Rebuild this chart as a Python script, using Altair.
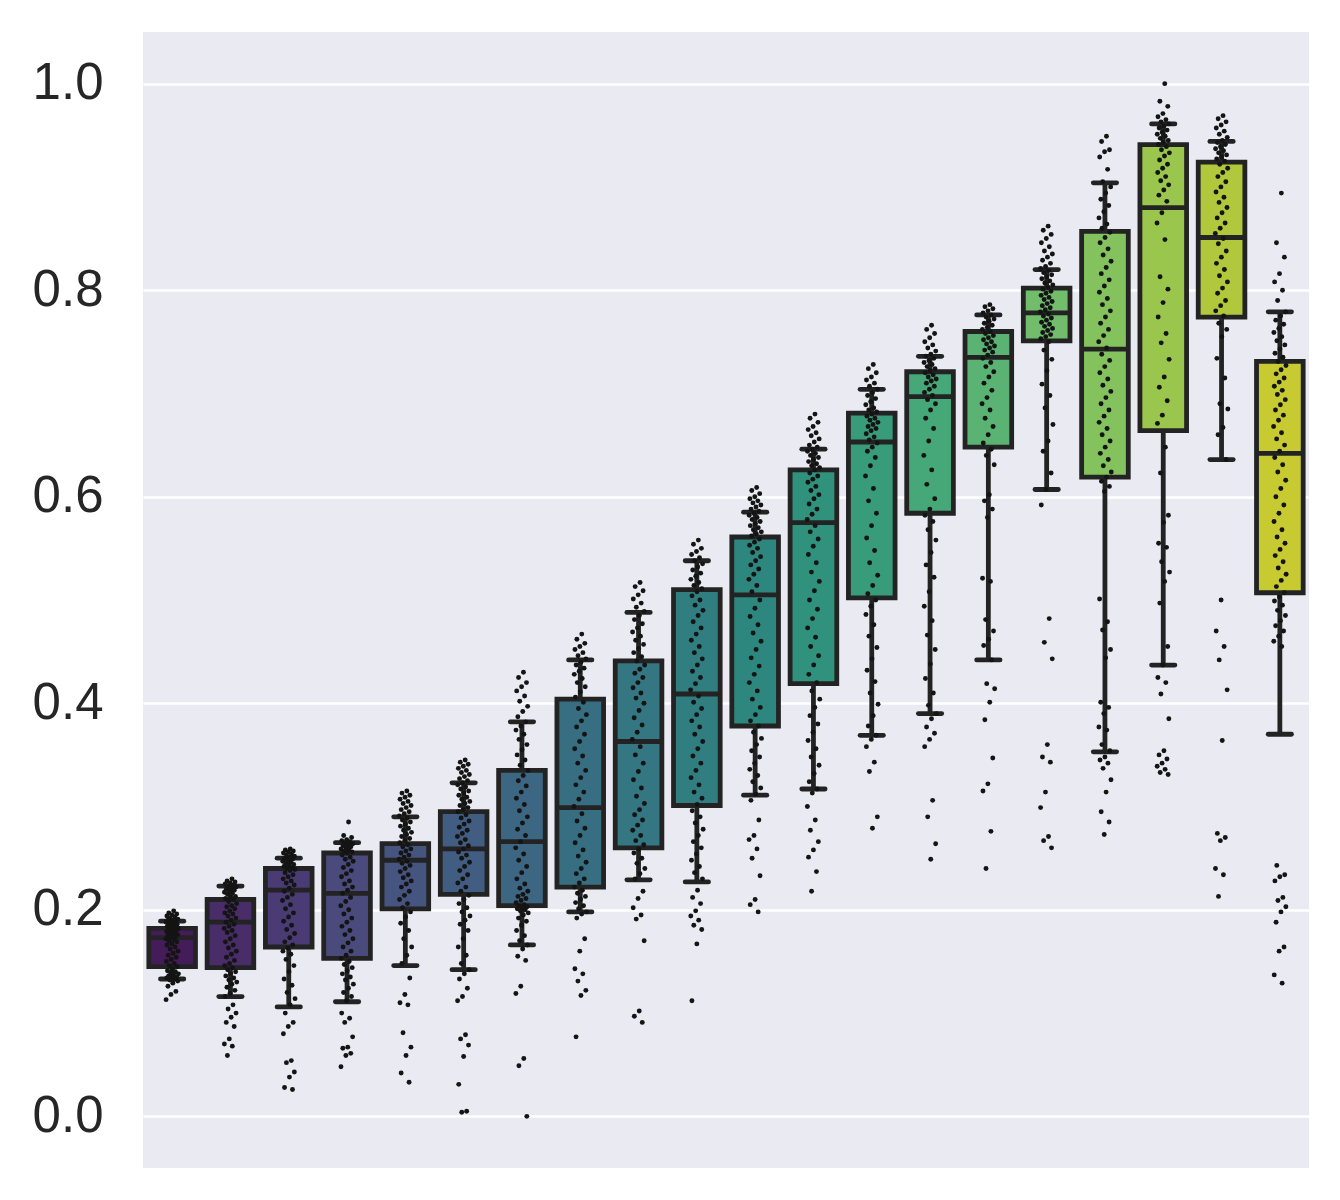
import colorsys

import altair as alt
import pandas as pd

# ---- box statistics for the 20 groups -------------------------------------
q1 = [0.145, 0.144, 0.164, 0.153, 0.201, 0.215, 0.204, 0.222, 0.260, 0.301,
      0.378, 0.419, 0.502, 0.584, 0.648, 0.751, 0.619, 0.664, 0.774, 0.507]
med = [0.173, 0.188, 0.219, 0.216, 0.248, 0.259, 0.266, 0.299, 0.363, 0.409,
       0.505, 0.575, 0.653, 0.697, 0.735, 0.778, 0.743, 0.880, 0.851, 0.642]
q3 = [0.182, 0.210, 0.240, 0.255, 0.264, 0.295, 0.335, 0.404, 0.441, 0.510,
      0.561, 0.626, 0.681, 0.721, 0.760, 0.802, 0.857, 0.941, 0.924, 0.731]
whisker_lo = [0.133, 0.116, 0.106, 0.111, 0.146, 0.142, 0.166, 0.198, 0.229, 0.227,
              0.311, 0.317, 0.369, 0.390, 0.442, 0.607, 0.353, 0.437, 0.636, 0.370]
whisker_hi = [0.189, 0.223, 0.250, 0.265, 0.290, 0.323, 0.382, 0.442, 0.488, 0.538,
              0.585, 0.646, 0.704, 0.736, 0.776, 0.820, 0.904, 0.961, 0.944, 0.779]

# ---- individual observations per group ------------------------------------
g1 = [0.199, 0.197, 0.196, 0.195, 0.194, 0.193, 0.192, 0.191, 0.190, 0.190, 0.189, 0.188,
      0.188, 0.187, 0.186, 0.186, 0.185, 0.184, 0.184, 0.183, 0.182, 0.182, 0.181, 0.180,
      0.179, 0.179, 0.178, 0.177, 0.176, 0.175, 0.175, 0.174, 0.173, 0.172, 0.171, 0.170,
      0.169, 0.167, 0.166, 0.164, 0.162, 0.160, 0.158, 0.156, 0.154, 0.152, 0.150, 0.148,
      0.146, 0.145, 0.143, 0.141, 0.140, 0.139, 0.138, 0.137, 0.136, 0.135, 0.134, 0.134,
      0.133, 0.132, 0.131, 0.129, 0.126, 0.121, 0.118, 0.113]
g2 = [0.230, 0.228, 0.227, 0.226, 0.225, 0.224, 0.223, 0.222, 0.221, 0.220, 0.219, 0.218,
      0.217, 0.216, 0.215, 0.213, 0.212, 0.211, 0.210, 0.208, 0.206, 0.204, 0.203, 0.201,
      0.199, 0.197, 0.196, 0.194, 0.192, 0.190, 0.188, 0.186, 0.184, 0.182, 0.180, 0.178,
      0.175, 0.172, 0.169, 0.166, 0.163, 0.160, 0.157, 0.154, 0.151, 0.148, 0.146, 0.144,
      0.142, 0.140, 0.138, 0.136, 0.134, 0.132, 0.130, 0.128, 0.125, 0.122, 0.119, 0.116,
      0.108, 0.104, 0.100, 0.096, 0.091, 0.087, 0.075, 0.070, 0.068, 0.059]
g3 = [0.259, 0.258, 0.257, 0.256, 0.255, 0.254, 0.253, 0.252, 0.251, 0.250, 0.249, 0.248,
      0.247, 0.246, 0.245, 0.244, 0.243, 0.242, 0.241, 0.240, 0.239, 0.238, 0.236, 0.234,
      0.232, 0.230, 0.228, 0.226, 0.224, 0.221, 0.218, 0.215, 0.212, 0.209, 0.205, 0.201,
      0.197, 0.193, 0.189, 0.185, 0.181, 0.177, 0.173, 0.169, 0.166, 0.163, 0.160, 0.157,
      0.152, 0.146, 0.140, 0.133, 0.127, 0.120, 0.114, 0.108, 0.100, 0.091, 0.087, 0.080,
      0.054, 0.052, 0.043, 0.038, 0.028, 0.026]
g4 = [0.285, 0.272, 0.270, 0.268, 0.267, 0.266, 0.265, 0.264, 0.263, 0.262, 0.261, 0.260,
      0.259, 0.258, 0.257, 0.256, 0.255, 0.253, 0.251, 0.249, 0.247, 0.244, 0.241, 0.238,
      0.235, 0.232, 0.228, 0.225, 0.222, 0.219, 0.216, 0.212, 0.208, 0.204, 0.200, 0.196,
      0.192, 0.188, 0.184, 0.180, 0.176, 0.172, 0.168, 0.164, 0.160, 0.156, 0.153, 0.150,
      0.147, 0.144, 0.141, 0.138, 0.135, 0.132, 0.128, 0.124, 0.120, 0.116, 0.112, 0.100,
      0.095, 0.091, 0.077, 0.067, 0.066, 0.061, 0.059, 0.048]
g5 = [0.315, 0.313, 0.311, 0.309, 0.307, 0.305, 0.303, 0.301, 0.299, 0.297, 0.295, 0.293,
      0.291, 0.289, 0.287, 0.285, 0.283, 0.281, 0.279, 0.277, 0.275, 0.273, 0.271, 0.269,
      0.267, 0.265, 0.263, 0.261, 0.259, 0.257, 0.255, 0.253, 0.251, 0.249, 0.247, 0.245,
      0.243, 0.240, 0.237, 0.234, 0.231, 0.228, 0.225, 0.222, 0.218, 0.214, 0.210, 0.206,
      0.202, 0.198, 0.193, 0.187, 0.180, 0.172, 0.164, 0.156, 0.148, 0.134, 0.118, 0.110,
      0.108, 0.081, 0.067, 0.059, 0.042, 0.033]
g6 = [0.345, 0.343, 0.341, 0.339, 0.337, 0.335, 0.333, 0.331, 0.329, 0.327, 0.325, 0.323,
      0.321, 0.319, 0.317, 0.315, 0.313, 0.311, 0.309, 0.307, 0.305, 0.303, 0.301, 0.299,
      0.297, 0.295, 0.292, 0.289, 0.286, 0.283, 0.280, 0.277, 0.274, 0.271, 0.268, 0.265,
      0.262, 0.259, 0.256, 0.253, 0.250, 0.246, 0.242, 0.238, 0.234, 0.230, 0.226, 0.222,
      0.218, 0.214, 0.210, 0.206, 0.202, 0.198, 0.194, 0.190, 0.186, 0.180, 0.172, 0.164,
      0.156, 0.148, 0.142, 0.138, 0.133, 0.124, 0.116, 0.112, 0.079, 0.075, 0.069, 0.058,
      0.031, 0.005, 0.004]
g7 = [0.430, 0.425, 0.420, 0.416, 0.412, 0.407, 0.402, 0.397, 0.392, 0.387, 0.382, 0.378,
      0.374, 0.370, 0.365, 0.360, 0.355, 0.350, 0.345, 0.340, 0.335, 0.330, 0.325, 0.320,
      0.314, 0.308, 0.302, 0.296, 0.290, 0.284, 0.278, 0.272, 0.266, 0.260, 0.254, 0.248,
      0.242, 0.236, 0.230, 0.225, 0.221, 0.218, 0.215, 0.213, 0.211, 0.209, 0.207, 0.205,
      0.204, 0.203, 0.202, 0.201, 0.200, 0.199, 0.197, 0.195, 0.192, 0.189, 0.185, 0.180,
      0.175, 0.170, 0.166, 0.162, 0.155, 0.151, 0.126, 0.119, 0.056, 0.049, 0.000]
g8 = [0.467, 0.462, 0.458, 0.455, 0.452, 0.449, 0.446, 0.443, 0.440, 0.437, 0.434, 0.431,
      0.428, 0.424, 0.420, 0.416, 0.411, 0.406, 0.401, 0.395, 0.389, 0.383, 0.377, 0.370,
      0.363, 0.356, 0.349, 0.342, 0.335, 0.328, 0.321, 0.314, 0.307, 0.300, 0.293, 0.286,
      0.279, 0.272, 0.265, 0.258, 0.252, 0.246, 0.240, 0.235, 0.230, 0.226, 0.222, 0.219,
      0.216, 0.213, 0.210, 0.207, 0.204, 0.201, 0.198, 0.196, 0.192, 0.172, 0.160, 0.143,
      0.138, 0.131, 0.122, 0.117, 0.077]
g9 = [0.517, 0.513, 0.509, 0.505, 0.501, 0.497, 0.493, 0.489, 0.485, 0.481, 0.477, 0.473,
      0.469, 0.465, 0.461, 0.457, 0.453, 0.449, 0.445, 0.441, 0.437, 0.433, 0.429, 0.425,
      0.420, 0.415, 0.410, 0.405, 0.400, 0.393, 0.386, 0.379, 0.372, 0.365, 0.358, 0.350,
      0.342, 0.334, 0.326, 0.318, 0.310, 0.303, 0.297, 0.292, 0.287, 0.282, 0.277, 0.272,
      0.267, 0.263, 0.259, 0.255, 0.250, 0.245, 0.240, 0.235, 0.230, 0.218, 0.211, 0.202,
      0.195, 0.191, 0.170, 0.102, 0.097, 0.091]
g10 = [0.558, 0.554, 0.550, 0.547, 0.544, 0.541, 0.538, 0.535, 0.532, 0.529, 0.526, 0.523,
       0.520, 0.517, 0.514, 0.511, 0.508, 0.504, 0.500, 0.495, 0.490, 0.485, 0.479, 0.473,
       0.467, 0.461, 0.455, 0.449, 0.443, 0.437, 0.431, 0.425, 0.419, 0.413, 0.407, 0.401,
       0.395, 0.389, 0.383, 0.377, 0.370, 0.363, 0.356, 0.349, 0.342, 0.335, 0.328, 0.321,
       0.314, 0.308, 0.302, 0.296, 0.290, 0.284, 0.278, 0.272, 0.266, 0.260, 0.254, 0.248,
       0.242, 0.236, 0.230, 0.219, 0.212, 0.206, 0.199, 0.194, 0.190, 0.185, 0.181, 0.167,
       0.112]
g11 = [0.609, 0.606, 0.603, 0.600, 0.598, 0.596, 0.594, 0.592, 0.590, 0.588, 0.586, 0.584,
       0.582, 0.580, 0.578, 0.576, 0.574, 0.572, 0.570, 0.568, 0.566, 0.564, 0.562, 0.559,
       0.556, 0.553, 0.550, 0.546, 0.542, 0.538, 0.534, 0.530, 0.525, 0.520, 0.514, 0.508,
       0.500, 0.492, 0.484, 0.476, 0.468, 0.460, 0.452, 0.444, 0.436, 0.428, 0.420, 0.412,
       0.404, 0.396, 0.389, 0.383, 0.378, 0.372, 0.366, 0.360, 0.354, 0.348, 0.342, 0.336,
       0.330, 0.324, 0.318, 0.312, 0.306, 0.287, 0.272, 0.268, 0.259, 0.250, 0.233, 0.210,
       0.205, 0.198]
g12 = [0.680, 0.676, 0.672, 0.668, 0.665, 0.662, 0.659, 0.656, 0.653, 0.650, 0.648, 0.646,
       0.644, 0.642, 0.640, 0.638, 0.636, 0.634, 0.632, 0.630, 0.628, 0.626, 0.623, 0.620,
       0.617, 0.614, 0.610, 0.606, 0.602, 0.598, 0.593, 0.588, 0.583, 0.578, 0.572, 0.566,
       0.559, 0.552, 0.544, 0.536, 0.527, 0.518, 0.509, 0.500, 0.491, 0.482, 0.473, 0.464,
       0.455, 0.446, 0.437, 0.428, 0.420, 0.412, 0.404, 0.396, 0.388, 0.380, 0.372, 0.364,
       0.356, 0.348, 0.340, 0.332, 0.324, 0.317, 0.313, 0.300, 0.287, 0.277, 0.266, 0.258,
       0.251, 0.237, 0.218]
g13 = [0.728, 0.724, 0.720, 0.716, 0.713, 0.710, 0.707, 0.704, 0.701, 0.698, 0.695, 0.692,
       0.689, 0.686, 0.684, 0.682, 0.680, 0.678, 0.676, 0.674, 0.672, 0.670, 0.668, 0.666,
       0.664, 0.661, 0.658, 0.655, 0.652, 0.648, 0.644, 0.638, 0.630, 0.620, 0.608, 0.596,
       0.584, 0.572, 0.560, 0.548, 0.536, 0.524, 0.514, 0.506, 0.500, 0.494, 0.486, 0.476,
       0.465, 0.454, 0.443, 0.432, 0.421, 0.410, 0.399, 0.388, 0.378, 0.369, 0.365, 0.358,
       0.343, 0.334, 0.290, 0.279]
g14 = [0.766, 0.762, 0.758, 0.754, 0.750, 0.747, 0.744, 0.741, 0.738, 0.736, 0.734, 0.732,
       0.730, 0.728, 0.726, 0.724, 0.722, 0.720, 0.718, 0.716, 0.714, 0.712, 0.710, 0.707,
       0.704, 0.701, 0.698, 0.694, 0.690, 0.684, 0.676, 0.666, 0.654, 0.640, 0.626, 0.612,
       0.598, 0.588, 0.582, 0.576, 0.568, 0.558, 0.546, 0.534, 0.522, 0.508, 0.494, 0.480,
       0.466, 0.452, 0.438, 0.424, 0.410, 0.398, 0.390, 0.385, 0.377, 0.371, 0.365, 0.358,
       0.306, 0.290, 0.264, 0.249]
g15 = [0.786, 0.784, 0.782, 0.780, 0.778, 0.776, 0.774, 0.772, 0.770, 0.768, 0.766, 0.764,
       0.762, 0.760, 0.758, 0.756, 0.754, 0.752, 0.750, 0.748, 0.746, 0.744, 0.742, 0.740,
       0.737, 0.734, 0.730, 0.726, 0.721, 0.716, 0.710, 0.703, 0.696, 0.690, 0.684, 0.676,
       0.668, 0.660, 0.652, 0.646, 0.640, 0.631, 0.602, 0.596, 0.588, 0.580, 0.521, 0.518,
       0.481, 0.470, 0.462, 0.456, 0.442, 0.419, 0.414, 0.401, 0.384, 0.347, 0.322, 0.315,
       0.276, 0.240]
g16 = [0.862, 0.858, 0.854, 0.850, 0.846, 0.842, 0.838, 0.835, 0.832, 0.829, 0.826, 0.823,
       0.821, 0.819, 0.817, 0.815, 0.813, 0.811, 0.809, 0.807, 0.805, 0.803, 0.801, 0.799,
       0.797, 0.795, 0.793, 0.791, 0.789, 0.787, 0.785, 0.783, 0.781, 0.779, 0.777, 0.775,
       0.773, 0.771, 0.769, 0.767, 0.765, 0.763, 0.761, 0.759, 0.757, 0.755, 0.753, 0.750,
       0.742, 0.733, 0.722, 0.709, 0.698, 0.686, 0.670, 0.654, 0.644, 0.623, 0.607, 0.592,
       0.482, 0.459, 0.443, 0.360, 0.348, 0.343, 0.314, 0.299, 0.271, 0.267, 0.260]
g17 = [0.949, 0.944, 0.936, 0.934, 0.929, 0.917, 0.905, 0.900, 0.894, 0.888, 0.882, 0.876,
       0.870, 0.864, 0.860, 0.856, 0.851, 0.846, 0.840, 0.834, 0.828, 0.822, 0.816, 0.810,
       0.804, 0.798, 0.792, 0.786, 0.780, 0.774, 0.768, 0.762, 0.756, 0.750, 0.744, 0.738,
       0.732, 0.726, 0.720, 0.714, 0.708, 0.702, 0.696, 0.690, 0.684, 0.678, 0.672, 0.666,
       0.660, 0.654, 0.648, 0.642, 0.636, 0.630, 0.624, 0.619, 0.615, 0.610, 0.605, 0.501,
       0.479, 0.471, 0.452, 0.444, 0.401, 0.396, 0.390, 0.377, 0.374, 0.360, 0.354, 0.348,
       0.345, 0.342, 0.337, 0.326, 0.314, 0.295, 0.285, 0.273]
g18 = [1.000, 0.983, 0.978, 0.971, 0.968, 0.965, 0.963, 0.961, 0.959, 0.957, 0.955, 0.953,
       0.951, 0.949, 0.947, 0.945, 0.943, 0.941, 0.939, 0.936, 0.933, 0.930, 0.926, 0.922,
       0.918, 0.914, 0.910, 0.906, 0.902, 0.897, 0.892, 0.886, 0.875, 0.865, 0.849, 0.813,
       0.801, 0.788, 0.774, 0.758, 0.749, 0.733, 0.716, 0.706, 0.693, 0.679, 0.671, 0.648,
       0.623, 0.582, 0.575, 0.555, 0.551, 0.537, 0.527, 0.518, 0.497, 0.455, 0.437, 0.425,
       0.420, 0.409, 0.385, 0.354, 0.350, 0.346, 0.342, 0.339, 0.336, 0.333, 0.331]
g19 = [0.969, 0.966, 0.963, 0.960, 0.957, 0.954, 0.951, 0.948, 0.945, 0.943, 0.941, 0.939,
       0.937, 0.935, 0.933, 0.931, 0.929, 0.927, 0.925, 0.922, 0.918, 0.914, 0.910, 0.905,
       0.900, 0.895, 0.890, 0.885, 0.880, 0.875, 0.870, 0.865, 0.860, 0.855, 0.850, 0.845,
       0.838, 0.832, 0.826, 0.820, 0.814, 0.808, 0.802, 0.797, 0.790, 0.785, 0.780, 0.775,
       0.768, 0.762, 0.755, 0.734, 0.715, 0.690, 0.685, 0.667, 0.660, 0.636, 0.500, 0.470,
       0.455, 0.442, 0.413, 0.364, 0.274, 0.270, 0.267, 0.240, 0.234, 0.213]
g20 = [0.894, 0.846, 0.832, 0.816, 0.808, 0.800, 0.790, 0.779, 0.775, 0.771, 0.767, 0.763,
       0.759, 0.755, 0.751, 0.747, 0.743, 0.739, 0.735, 0.731, 0.727, 0.723, 0.719, 0.715,
       0.711, 0.707, 0.703, 0.699, 0.694, 0.689, 0.684, 0.679, 0.674, 0.668, 0.662, 0.656,
       0.650, 0.644, 0.638, 0.631, 0.624, 0.616, 0.608, 0.600, 0.592, 0.584, 0.576, 0.568,
       0.561, 0.555, 0.549, 0.543, 0.537, 0.531, 0.525, 0.519, 0.513, 0.507, 0.503, 0.499,
       0.495, 0.490, 0.485, 0.480, 0.475, 0.470, 0.465, 0.460, 0.455, 0.243, 0.234, 0.232,
       0.228, 0.212, 0.209, 0.203, 0.198, 0.188, 0.164, 0.160, 0.137, 0.129]

groups = [g1, g2, g3, g4, g5, g6, g7, g8, g9, g10,
          g11, g12, g13, g14, g15, g16, g17, g18, g19, g20]
y_ticks = [0.0, 0.2, 0.4, 0.6, 0.8, 1.0]

# ---- palette: viridis sampled away from both ends, then desaturated -------
VIRIDIS = ["#440154", "#471365", "#482475", "#463480", "#414487", "#3b528b",
           "#355f8d", "#2f6c8e", "#2a788e", "#25848e", "#21918c", "#1e9c89",
           "#22a884", "#2fb47c", "#44bf70", "#5ec962", "#7ad151", "#9bd93c",
           "#bddf26", "#dfe318", "#fde725"]


def _rgb(h):
    return [int(h[i:i + 2], 16) / 255 for i in (1, 3, 5)]


def viridis(t):
    pos = t * (len(VIRIDIS) - 1)
    i = min(int(pos), len(VIRIDIS) - 2)
    f = pos - i
    a, b = _rgb(VIRIDIS[i]), _rgb(VIRIDIS[i + 1])
    return [a[k] + (b[k] - a[k]) * f for k in range(3)]


def desaturate(rgb, prop):
    h, l, s = colorsys.rgb_to_hls(*rgb)
    r, g, b = colorsys.hls_to_rgb(h, l, s * prop)
    return "#{:02x}{:02x}{:02x}".format(round(r * 255), round(g * 255), round(b * 255))


n = len(groups)
colors = [desaturate(viridis((k + 1) / (n + 1)), 0.75) for k in range(n)]

stats = pd.DataFrame({
    "group": list(range(n)), "q1": q1, "med": med, "q3": q3,
    "lo": whisker_lo, "hi": whisker_hi, "color": colors,
})
obs = pd.DataFrame({
    "group": [i for i, g in enumerate(groups) for _ in g],
    "value": [v for g in groups for v in g],
})

# ---- styling --------------------------------------------------------------
EDGE = "#232323"
LW = 4.8
BG = "#EAEAF2"
FONT = "Liberation Sans"

xs = alt.Scale(domain=[-0.5, n - 0.5], nice=False, zero=False)
ys = alt.Scale(domain=[-0.05, 1.05], nice=False, zero=False)
y_axis = alt.Axis(values=y_ticks, format=".1f", title=None, grid=True,
                  gridColor="white", gridWidth=2.6, domain=False, ticks=False,
                  tickSize=0, labelPadding=40, labelFont=FONT, labelFontSize=51,
                  labelColor="#262626")


def X(field):
    return alt.X(field, type="quantitative", scale=xs, axis=None)


def Y(field):
    return alt.Y(field, type="quantitative", scale=ys, axis=y_axis)


base = alt.Chart(stats).transform_calculate(
    left="datum.group - 0.4", right="datum.group + 0.4",
    cap_l="datum.group - 0.2", cap_r="datum.group + 0.2",
)

boxes = base.mark_rect(stroke=EDGE, strokeWidth=LW).encode(
    x=X("left"), x2="right:Q", y=Y("q1"), y2="q3:Q",
    fill=alt.Fill("color:N", scale=None),
)
whisk_hi = base.mark_rule(color=EDGE, strokeWidth=LW).encode(
    x=X("group"), y=Y("q3"), y2="hi:Q")
whisk_lo = base.mark_rule(color=EDGE, strokeWidth=LW).encode(
    x=X("group"), y=Y("lo"), y2="q1:Q")
cap_hi = base.mark_rule(color=EDGE, strokeWidth=LW, strokeCap="round").encode(
    x=X("cap_l"), x2="cap_r:Q", y=Y("hi"))
cap_lo = base.mark_rule(color=EDGE, strokeWidth=LW, strokeCap="round").encode(
    x=X("cap_l"), x2="cap_r:Q", y=Y("lo"))
medians = base.mark_rule(color=EDGE, strokeWidth=LW).encode(
    x=X("left"), x2="right:Q", y=Y("med"))

# strip of observations, spread sideways with a deterministic jitter
strip = alt.Chart(obs).transform_window(
    rn="row_number()", groupby=["group"]
).transform_calculate(
    jx="datum.group + ((datum.rn * 0.6180339887) % 1 - 0.5) * 0.22"
).mark_circle(color="#141414", opacity=1, size=24).encode(
    x=X("jx"), y=Y("value"),
)

chart = alt.layer(
    boxes, whisk_hi, whisk_lo, cap_hi, cap_lo, medians, strip
).properties(
    width=1166, height=1136,
    padding={"left": 143, "top": 32, "right": 31, "bottom": 32},
    autosize=alt.AutoSizeParams(type="none"),
    background="white",
).configure_view(fill=BG, stroke=None)

chart.save("out.html", embed_options={"renderer": "svg", "actions": False})
